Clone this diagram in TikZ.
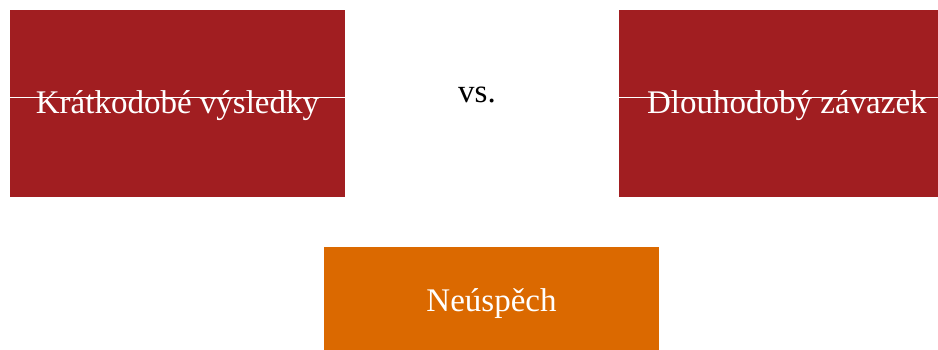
\documentclass[tikz,border=0pt]{standalone}
\usepackage{fontspec}
\setmainfont{Liberation Serif}
\usetikzlibrary{positioning}
\definecolor{boxred}{RGB}{161,30,33}
\definecolor{boxorange}{RGB}{219,105,0}
\begin{document}
\begin{tikzpicture}
        [
            x = 1pt, y = -1pt,
            tile/.style = {rectangle, minimum width=335pt, inner sep=0pt,
                text=white, font=\fontsize{33}{38}\selectfont},
            redtile/.style = {tile, fill=boxred, minimum height=187pt},
            orangetile/.style = {tile, fill=boxorange, minimum height=106pt},
        ]
        \clip (0,0) rectangle (938,350);
        \fill[white] (0,0) rectangle (938,350);
        \node[redtile] (kratko) at (177.5,103.5) {\raisebox{-2pt}[\height][\depth]{Krátkodobé výsledky}};
        \node[redtile, right=274pt of kratko] (dlouho) {\raisebox{-2pt}[\height][\depth]{Dlouhodobý závazek}};
        \node[orangetile] (neusp) at (491.5,300) {\raisebox{-4pt}[\height][\depth]{Neúspěch}};
        \draw[white, line width=1pt] ([yshift=5.5pt]kratko.west) -- ([yshift=5.5pt]dlouho.east);
        \node[font=\fontsize{33}{38}\selectfont] (vs) at (477,95) {vs.};
    \end{tikzpicture}
\end{document}
